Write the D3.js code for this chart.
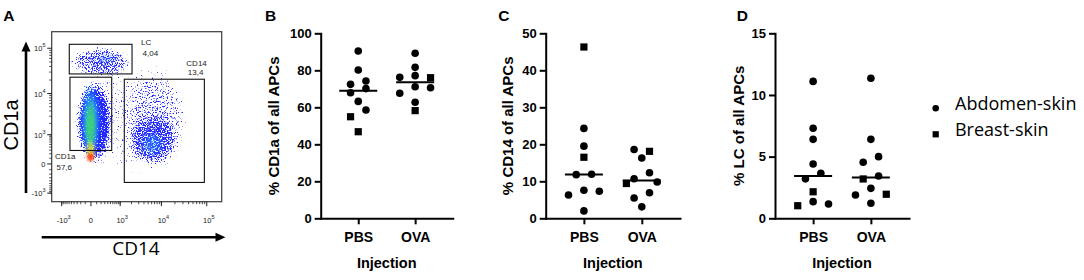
<!DOCTYPE html>
<html>
<head>
<meta charset="utf-8">
<script src="https://cdn.jsdelivr.net/npm/d3@7"></script>
<style>
    body { margin: 0; background: #fff; }
    svg { display: block; }
    .gp text { font-family: "Liberation Sans", Arial, sans-serif; font-weight: bold; fill: #000; }
</style>
</head>
<body>
<svg id="fig" width="1084" height="280"></svg>
<script>
// ---- panels B-D: one value per donor, listed so that points sharing a row keep their left-to-right order
const groups = ['PBS', 'OVA'];
const cd1aPbs = [90.4, 80.2, 72.4, 74.2, 67.9, 70.1, 63.2, 54.9, 58.5, 46.8];
const cd1aPbsSkin = ['A', 'A', 'A', 'A', 'A', 'A', 'A', 'B', 'A', 'B'];
const cd1aOva = [89.2, 81.6, 77.1, 76.2, 76.0, 71.1, 67.6, 70.6, 62.7, 58.2];
const cd1aOvaSkin = ['A', 'A', 'A', 'A', 'B', 'A', 'A', 'A', 'A', 'B'];
const cd14Pbs = [46.3, 24.3, 19.5, 16.5, 11.8, 11.9, 7.6, 6.3, 7.3, 2.0];
const cd14PbsSkin = ['B', 'A', 'A', 'B', 'A', 'A', 'A', 'A', 'A', 'A'];
const cd14Ova = [18.6, 18.1, 16.3, 10.7, 12.3, 9.4, 9.8, 5.5, 6.9, 3.1];
const cd14OvaSkin = ['A', 'B', 'A', 'A', 'A', 'B', 'A', 'A', 'A', 'A'];
const lcPbs = [11.1, 7.3, 6.4, 4.4, 3.2, 3.65, 2.15, 1.35, 1.02, 1.16];
const lcPbsSkin = ['A', 'A', 'A', 'A', 'A', 'A', 'B', 'A', 'B', 'A'];
const lcOva = [11.35, 6.4, 4.54, 5.0, 3.19, 3.43, 2.43, 1.89, 1.95, 1.22];
const lcOvaSkin = ['A', 'A', 'A', 'A', 'B', 'A', 'A', 'A', 'B', 'A'];
const skinKeys = ['A', 'B'];
const skinNames = ['Abdomen-skin', 'Breast-skin'];

// ---- panel A: flow cytometry plot (CD14 vs CD1a)
const flowTicks = [-1000, 0, 1000, 10000, 100000];
const flowTickBase = ['-10', '0', '10', '10', '10'];
const flowTickExp = ['3', '', '3', '4', '5'];
const gateNames = ['LC', 'CD1a', 'CD14'];
const gatePct = ['4,04', '57,6', '13,4'];
const gateX = [[-590, 2060], [-560, 550], [1300, 88600]];
const gateY = [[27300, 122000], [290, 23100], [-460, 20850]];
// cell clouds: extent in axis units, drawn as speckled dots
const dotX = [[-800, 42900], [-650, 2300], [-370, 610], [1120, 42900], [1630, 26000]];
const dotY = [[-260, 65700], [22000, 115000], [-60, 21600], [-420, 46200], [-40, 3500]];
const dotDensity = [0.28, 0.62, 0.95, 0.3, 0.5];
// dense cores of the clouds, coloured by density
const coreX = [[-220, 200], [-130, 110], [-104, 87], [-84, 68], [3200, 12000], [50, 900]];
const coreY = [[75, 16700], [200, 8500], [7, 720], [20, 260], [140, 1230], [45000, 75000]];
const coreColour = ['#22d4ff', '#3fe05a', '#f4e62a', '#ff2a10', '#33c8ff', '#3d8cff'];
const coreOpacity = [0.7, 0.85, 0.9, 1, 0.35, 0.3];

const svg = d3.select('#fig');
const defs = svg.append('defs');

// ================= panel A =================
const fx = d3.scaleSymlog().constant(300).domain([-1850, 212000]).range([51.7, 221.7]);
const fy = d3.scaleSymlog().constant(300).domain([-1700, 230000]).range([201.7, 31.7]);

defs.append('clipPath').attr('id', 'frameClip')
    .append('rect')
    .attr('x', fx.range()[0]).attr('y', fy.range()[1])
    .attr('width', fx.range()[1] - fx.range()[0])
    .attr('height', fy.range()[0] - fy.range()[1]);

// speckle: noise thresholded by the local density
const sp = defs.append('filter').attr('id', 'speckle')
    .attr('filterUnits', 'userSpaceOnUse')
    .attr('x', 40).attr('y', 20).attr('width', 200).attr('height', 200);
sp.append('feTurbulence').attr('type', 'fractalNoise').attr('baseFrequency', 0.8)
    .attr('numOctaves', 2).attr('seed', 7).attr('result', 'noise');
sp.append('feColorMatrix').attr('in', 'noise').attr('type', 'matrix')
    .attr('values', '0 0 0 0 0  0 0 0 0 0  0 0 0 0 0  1.7 0 0 0 -0.35').attr('result', 'na');
sp.append('feComposite').attr('in', 'SourceAlpha').attr('in2', 'na').attr('operator', 'arithmetic')
    .attr('k1', 0).attr('k2', 1).attr('k3', 1).attr('k4', -1).attr('result', 'sum');
const ct = sp.append('feComponentTransfer').attr('in', 'sum').attr('result', 'mask');
ct.append('feFuncA').attr('type', 'linear').attr('slope', 5).attr('intercept', 0);
sp.append('feFlood').attr('flood-color', '#2127ff');
sp.append('feComposite').attr('in2', 'mask').attr('operator', 'in');

defs.append('filter').attr('id', 'soft')
    .append('feGaussianBlur').attr('stdDeviation', 1.2);

function ellipseOf(xr, yr) {
    const x0 = fx(xr[0]), x1 = fx(xr[1]), y0 = fy(yr[0]), y1 = fy(yr[1]);
    return { cx: (x0 + x1) / 2, cy: (y0 + y1) / 2, rx: Math.abs(x1 - x0) / 2, ry: Math.abs(y1 - y0) / 2 };
}

const flow = svg.append('g').attr('clip-path', 'url(#frameClip)');
const dotsG = flow.append('g').attr('filter', 'url(#speckle)');
dotX.forEach((xr, i) => {
    const gr = defs.append('radialGradient').attr('id', 'dg' + i);
    gr.append('stop').attr('offset', '0%').attr('stop-color', '#000').attr('stop-opacity', dotDensity[i]);
    gr.append('stop').attr('offset', '65%').attr('stop-color', '#000').attr('stop-opacity', dotDensity[i] * 0.8);
    gr.append('stop').attr('offset', '100%').attr('stop-color', '#000').attr('stop-opacity', 0);
    const e = ellipseOf(xr, dotY[i]);
    dotsG.append('ellipse').attr('cx', e.cx).attr('cy', e.cy).attr('rx', e.rx).attr('ry', e.ry)
        .attr('fill', `url(#dg${i})`);
});
const coreG = flow.append('g').attr('filter', 'url(#soft)');
coreX.forEach((xr, i) => {
    const gr = defs.append('radialGradient').attr('id', 'cg' + i);
    gr.append('stop').attr('offset', '0%').attr('stop-color', coreColour[i]).attr('stop-opacity', coreOpacity[i]);
    gr.append('stop').attr('offset', '55%').attr('stop-color', coreColour[i]).attr('stop-opacity', coreOpacity[i] * 0.75);
    gr.append('stop').attr('offset', '100%').attr('stop-color', coreColour[i]).attr('stop-opacity', 0);
    const e = ellipseOf(xr, coreY[i]);
    coreG.append('ellipse').attr('cx', e.cx).attr('cy', e.cy).attr('rx', e.rx).attr('ry', e.ry)
        .attr('fill', `url(#cg${i})`);
});

// frame
svg.append('rect')
    .attr('x', fx.range()[0]).attr('y', fy.range()[1])
    .attr('width', fx.range()[1] - fx.range()[0])
    .attr('height', fy.range()[0] - fy.range()[1])
    .attr('fill', 'none').attr('stroke', '#3a3a3a').attr('stroke-width', 1.2);

// gates
const gateLabelPos = {
    LC: { ref: g => [fx(g.x[1]) + 9, fy(g.y[1])], dy: [1, 11.5] },
    CD1a: { ref: g => [fx(g.x[0]) - 15, fy(g.y[0])], dy: [9, 20] },
    CD14: { ref: g => [fx(g.x[1]) - 18, fy(g.y[1])], dy: [-13, -4] }
};
gateNames.forEach((name, i) => {
    const g = { x: gateX[i], y: gateY[i] };
    svg.append('rect')
        .attr('x', fx(g.x[0])).attr('y', fy(g.y[1]))
        .attr('width', fx(g.x[1]) - fx(g.x[0]))
        .attr('height', fy(g.y[0]) - fy(g.y[1]))
        .attr('fill', 'none').attr('stroke', '#111').attr('stroke-width', 1.1);
    const p = gateLabelPos[name];
    const [lx, ly] = p.ref(g);
    [name, gatePct[i]].forEach((t, k) => {
        svg.append('text').attr('x', lx + (k ? 1.5 : 0)).attr('y', ly + p.dy[k])
            .attr('font-family', 'Liberation Sans, Arial, sans-serif').attr('font-size', 8)
            .attr('fill', '#222').text(t);
    });
});

// minor ticks of the logicle-like axes
const minorTicks = [];
[2, 3, 4].forEach(d => d3.range(1, 10).forEach(k => minorTicks.push(k * Math.pow(10, d))));
[2, 3].forEach(d => d3.range(1, 10).forEach(k => minorTicks.push(-k * Math.pow(10, d))));
const xMinor = minorTicks.filter(v => v > fx.domain()[0] && v < fx.domain()[1]);
const yMinor = minorTicks.filter(v => v > fy.domain()[0] && v < fy.domain()[1]);

const ax = svg.append('g').attr('stroke', '#222');
const yb = fy.range()[0], xl = fx.range()[0];
xMinor.forEach(v => ax.append('line').attr('x1', fx(v)).attr('x2', fx(v)).attr('y1', yb).attr('y2', yb + 2.5).attr('stroke-width', 0.8));
yMinor.forEach(v => ax.append('line').attr('y1', fy(v)).attr('y2', fy(v)).attr('x1', xl).attr('x2', xl - 2.5).attr('stroke-width', 0.8));
flowTicks.forEach(v => {
    ax.append('line').attr('x1', fx(v)).attr('x2', fx(v)).attr('y1', yb).attr('y2', yb + 4.5).attr('stroke-width', 1);
    ax.append('line').attr('y1', fy(v)).attr('y2', fy(v)).attr('x1', xl).attr('x2', xl - 4.5).attr('stroke-width', 1);
});

function tickLabel(x, y, anchor, i) {
    const t = svg.append('text').attr('x', x).attr('y', y).attr('text-anchor', anchor)
        .attr('font-family', 'Liberation Sans, Arial, sans-serif').attr('font-size', 7.5).attr('fill', '#222');
    t.append('tspan').text(flowTickBase[i]);
    if (flowTickExp[i]) t.append('tspan').attr('dy', -4).attr('font-size', 5.5).text(flowTickExp[i]);
}
flowTicks.forEach((v, i) => {
    tickLabel(fx(v) + (flowTickExp[i] ? 2 : 0), 223, 'middle', i);
    tickLabel(45.5, fy(v) + 3, 'end', i);
});

// axis arrows and titles
const arrows = svg.append('g').attr('fill', '#000').attr('stroke', '#000');
arrows.append('line').attr('x1', 26).attr('x2', 26).attr('y1', 193).attr('y2', 50).attr('stroke-width', 2.6);
arrows.append('path').attr('d', 'M26,41.5 L21.5,51.5 L30.5,51.5 Z').attr('stroke', 'none');
arrows.append('line').attr('x1', 41.7).attr('x2', 216).attr('y1', 237.3).attr('y2', 237.3).attr('stroke-width', 2.6);
arrows.append('path').attr('d', 'M225.5,237.3 L215.5,232.8 L215.5,241.8 Z').attr('stroke', 'none');

svg.append('text').attr('transform', 'translate(18.4,125) rotate(-90)').attr('text-anchor', 'middle')
    .attr('font-family', 'Liberation Sans, Arial, sans-serif').attr('font-size', 20).text('CD1a');
svg.append('text').attr('x', 136).attr('y', 255).attr('text-anchor', 'middle')
    .attr('font-family', 'Open Sans, sans-serif').attr('font-size', 19).text('CD14');

svg.append('text').attr('x', 3.3).attr('y', 20.7)
    .attr('font-family', 'Liberation Sans, Arial, sans-serif').attr('font-weight', 'bold')
    .attr('font-size', 15.5).text('A');

// ================= panels B-D =================
const markSize = 7.3;
const slotStep = 15.4;
const plotTop = 33.3, plotBottom = 218.3;

// rows of close values are spread side by side; a row is widened if it hits an earlier row
function swarm(values, skins, y, cx) {
    const pts = values.map((v, i) => ({ v, skin: skins[i], i, py: y(v) }));
    const sorted = pts.slice().sort((a, b) => b.v - a.v);
    const rows = [];
    sorted.forEach(p => {
        const row = rows[rows.length - 1];
        if (row && Math.abs(p.py - row[0].py) < markSize) row.push(p);
        else rows.push([p]);
    });
    const placed = [];
    rows.forEach(row => {
        row.sort((a, b) => a.i - b.i);
        const n = row.length;
        const slots = d3.range(n).map(k => k - (n - 1) / 2)
            .sort((a, b) => Math.abs(a) - Math.abs(b) || a - b);
        let spread = slotStep;
        for (let t = 0; t < 4; t++) {
            row.forEach((p, k) => { p.px = cx + slots[k] * spread; });
            const hit = row.some(p => placed.some(q => Math.hypot(p.px - q.px, p.py - q.py) < markSize));
            if (!hit) break;
            spread += slotStep;
        }
        placed.push(...row);
    });
    return placed;
}

const panels = [
    { letter: 'B', letterX: 265, left: 320.7, right: 452.7, max: 100, step: 20, labelGap: 47.4,
      title: '% CD1a of all APCs', series: [[cd1aPbs, cd1aPbsSkin], [cd1aOva, cd1aOvaSkin]] },
    { letter: 'C', letterX: 498.3, left: 545.7, right: 680, max: 50, step: 10, labelGap: 37.6,
      title: '% CD14 of all APCs', series: [[cd14Pbs, cd14PbsSkin], [cd14Ova, cd14OvaSkin]] },
    { letter: 'D', letterX: 736.7, left: 775, right: 909, max: 15, step: 5, labelGap: 36.5,
      title: '% LC of all APCs', series: [[lcPbs, lcPbsSkin], [lcOva, lcOvaSkin]] }
];

const circleR = 3.8, squareSide = 7.2;

function drawMark(sel, skin, x, y, r, side) {
    if (skin === 'A') {
        sel.append('circle').attr('cx', x).attr('cy', y).attr('r', r).attr('fill', '#000');
    } else {
        sel.append('rect').attr('x', x - side / 2).attr('y', y - side / 2)
            .attr('width', side).attr('height', side).attr('fill', '#000');
    }
}

panels.forEach(cfg => {
    const g = svg.append('g').attr('class', 'gp');
    const x = d3.scalePoint().domain(groups).range([cfg.left, cfg.right]).padding(0.66);
    const y = d3.scaleLinear().domain([0, cfg.max]).range([plotBottom, plotTop]);

    const yAxis = d3.axisLeft(y)
        .tickValues(d3.range(0, cfg.max + cfg.step / 2, cfg.step))
        .tickSize(6).tickSizeOuter(0).tickPadding(3);
    const xAxis = d3.axisBottom(x).tickSize(6).tickSizeOuter(0).tickPadding(8);

    const yg = g.append('g').attr('transform', `translate(${cfg.left},0)`).call(yAxis);
    const xg = g.append('g').attr('transform', `translate(0,${plotBottom})`).call(xAxis);
    [yg, xg].forEach(a => {
        a.select('.domain').attr('stroke', '#000').attr('stroke-width', 2).attr('stroke-linecap', 'square');
        a.selectAll('.tick line').attr('stroke', '#000').attr('stroke-width', 2);
        a.selectAll('text').attr('font-family', 'Liberation Sans, Arial, sans-serif').attr('font-weight', 'bold');
    });
    yg.selectAll('text').attr('font-size', 13);
    xg.selectAll('text').attr('font-size', 14);

    cfg.series.forEach(([vals, skins], gi) => {
        const cx = x(groups[gi]);
        const pts = swarm(vals, skins, y, cx);
        pts.forEach(p => drawMark(g, p.skin, p.px, p.py, circleR, squareSide));
        const med = d3.median(vals);
        g.append('line').attr('x1', cx - 19).attr('x2', cx + 19)
            .attr('y1', y(med)).attr('y2', y(med))
            .attr('stroke', '#000').attr('stroke-width', 2);
    });

    g.append('text')
        .attr('transform', `translate(${cfg.left - cfg.labelGap},${(plotTop + plotBottom) / 2}) rotate(-90)`)
        .attr('text-anchor', 'middle').attr('dy', '0.35em').attr('font-size', 15).text(cfg.title);
    g.append('text').attr('x', (cfg.left + cfg.right) / 2).attr('y', 268)
        .attr('text-anchor', 'middle').attr('font-size', 14.5).text('Injection');
    g.append('text').attr('x', cfg.letterX).attr('y', 20.7).attr('font-size', 15.5).text(cfg.letter);
});

// legend
const legend = svg.append('g').attr('transform', 'translate(935.7,108.3)');
skinKeys.forEach((k, i) => {
    drawMark(legend, k, 0, i * 26, 3.3, 6.2);
    legend.append('text').attr('x', 19.3).attr('y', i * 26 + 1.7)
        .attr('font-family', 'Open Sans, sans-serif').attr('font-size', 18).text(skinNames[i]);
});
</script>
</body>
</html>
